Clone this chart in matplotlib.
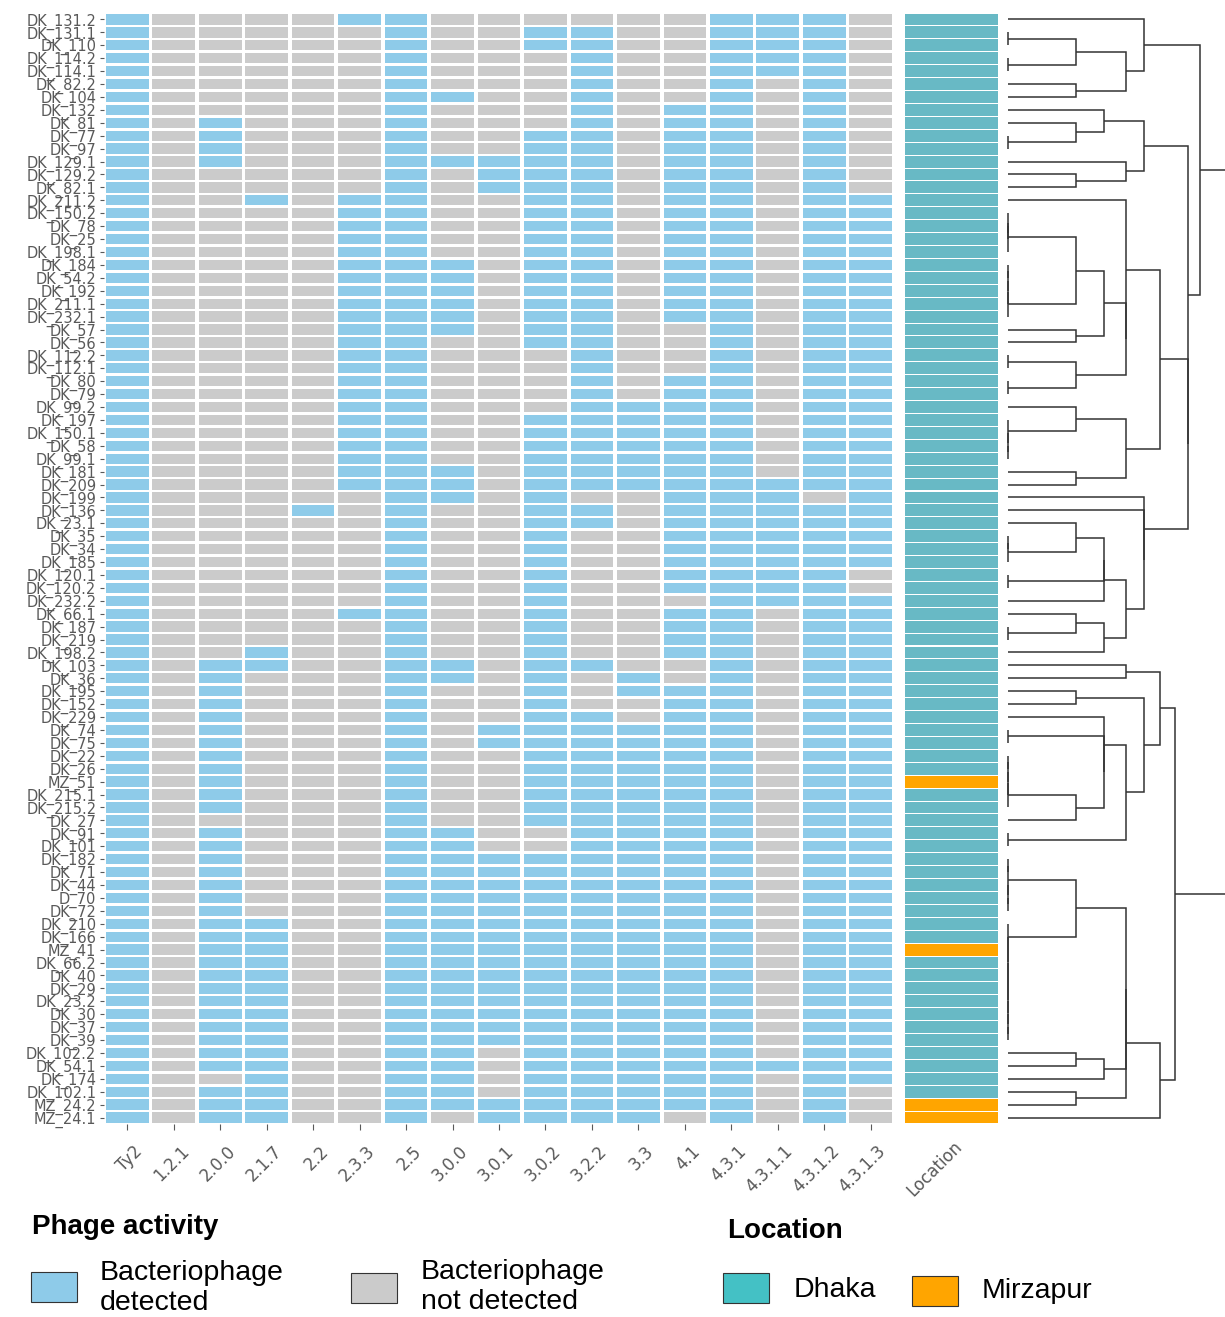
import numpy as np
import matplotlib
matplotlib.use('Agg')
import matplotlib.pyplot as plt
from matplotlib.patches import Rectangle
from matplotlib.collections import PatchCollection
from matplotlib.transforms import ScaledTranslation

# DADOS
lineages = ['Ty2', '1.2.1', '2.0.0', '2.1.7', '2.2', '2.3.3', '2.5', '3.0.0', '3.0.1',
            '3.0.2', '3.2.2', '3.3', '4.1', '4.3.1', '4.3.1.1', '4.3.1.2', '4.3.1.3']

isolates = ['DK_131.2', 'DK_131.1', 'DK_110', 'DK_114.2', 'DK_114.1', 'DK_82.2', 'DK_104',
            'DK_132', 'DK_81', 'DK_77', 'DK_97', 'DK_129.1', 'DK_129.2', 'DK_82.1',
            'DK_211.2', 'DK_150.2', 'DK_78', 'DK_25', 'DK_198.1', 'DK_184', 'DK_54.2',
            'DK_192', 'DK_211.1', 'DK_232.1', 'DK_57', 'DK_56', 'DK_112.2', 'DK_112.1',
            'DK_80', 'DK_79', 'DK_99.2', 'DK_197', 'DK_150.1', 'DK_58', 'DK_99.1',
            'DK_181', 'DK_209', 'DK_199', 'DK_136', 'DK_23.1', 'DK_35', 'DK_34', 'DK_185',
            'DK_120.1', 'DK_120.2', 'DK_232.2', 'DK_66.1', 'DK_187', 'DK_219', 'DK_198.2',
            'DK_103', 'DK_36', 'DK_195', 'DK_152', 'DK_229', 'DK_74', 'DK_75', 'DK_22',
            'DK_26', 'MZ_51', 'DK_215.1', 'DK_215.2', 'DK_27', 'DK_91', 'DK_101',
            'DK_182', 'DK_71', 'DK_44', 'D_70', 'DK_72', 'DK_210', 'DK_166', 'MZ_41',
            'DK_66.2', 'DK_40', 'DK_29', 'DK_23.2', 'DK_30', 'DK_37', 'DK_39',
            'DK_102.2', 'DK_54.1', 'DK_174', 'DK_102.1', 'MZ_24.2', 'MZ_24.1']

# 1 = bacteriophage detected, 0 = not detected (one char per lineage)
phage_rows = [
    '10000110000001110', '10000010011001110', '10000010011001110', '10000010001001110',
    '10000010001001110', '10000010001001010', '10000011001001010', '10000010001011010',
    '10100010001011010', '10100010011011010', '10100010011011010', '10100011111011010',
    '10000010111011010', '10000010111011010', '10010110011011011', '10000110011011011',
    '10000110011011011', '10000110011011011', '10000110011011011', '10000111011011011',
    '10000111011011011', '10000111011011011', '10000111011011011', '10000111011011011',
    '10000111011001011', '10000110011001011', '10000110001001011', '10000110001001011',
    '10000110001011011', '10000110001011011', '10000110001111011', '10000110011111011',
    '10000110011111011', '10000110011111011', '10000110011111011', '10000111011111011',
    '10000111011111111', '10000011010011101', '10001010011011111', '10000010011011111',
    '10000010010011111', '10000010010011111', '10000010010011111', '10000010010011110',
    '10000010010011110', '10000010010001111', '10000110010011011', '10000010010011011',
    '10000010010011011', '10010010010011011', '10110011011001011', '10100011010101011',
    '10100010010111011', '10100010010011011', '10100010011011011', '10100010111111011',
    '10100010111111011', '10100010011111011', '10100010011111011', '10100010011111011',
    '10100010011111011', '10100010011111011', '10000010011111011', '10100011001111011',
    '10100011001111011', '10100011111111011', '10100011111111011', '10100011111111011',
    '10100011111111011', '10100011111111011', '10110011111111011', '10110011111111011',
    '10110011111111011', '10110011111111011', '10110011111111011', '10110011111111011',
    '10110011111111011', '10110011111111011', '10110011111111011', '10110011111111011',
    '10110011011111011', '10110011011111111', '10010011011111011', '10110011011111010',
    '10110011111111010', '10110010111101010']

location = ['Mirzapur' if s.startswith('MZ') else 'Dhaka' for s in isolates]

# DENDROGRAMA: (distancia^2, esquerda, direita), folhas = numero da linha
g16_19 = (0, (0, 16, (0, 17, 18)), 19)
g20_24 = (0, (0, (0, (0, 20, 21), 22), 23), 24)
g32_35 = (0, 32, (0, 33, (0, 34, 35)))
g58_62 = (0, (0, (0, (0, 58, 59), 60), 61), 62)
g66_70 = (0, (0, 66, 67), (0, 68, (0, 69, 70)))
g71_80 = (0, 71, (0, 72, (0, 73, (0, 74, (0, 75, (0, 76, (0, 77, (0, 78, (0, 79, 80)))))))))

t1 = (4, 1, (3, (1, (0, 2, 3), (0, 4, 5)), (1, 6, 7)))
t2 = (4, (2, 8, (1, 9, (0, 10, 11))), (3, 12, (1, 13, 14)))
t3 = (5, (3, 15, (3, (2, (1, g16_19, g20_24), (1, 25, 26)), (1, (0, 27, 28), (0, 29, 30)))),
      (3, (1, 31, g32_35), (1, 36, 37)))
t4 = (4, 38, (4, 39, (3, (2, (2, (1, 40, (0, (0, 41, 42), 43)), (0, 44, 45)), 46),
                          (2, (1, 47, (0, 48, 49)), 50))))
b1 = (3, 51, 52)
b2 = (4, (1, 53, 54), (3, (2, 55, (2, (0, 56, 57), (1, g58_62, 63))), (0, 64, 65)))
b3 = (5, (3, (3, (1, g66_70, g71_80), (2, (1, 81, 82), 83)), (1, 84, 85)), 86)
tree = (11, (8, t1, (7, t2, (7, t3, t4))), (6, (5, b1, b2), b3))

COL_ON = '#8ECBE9'
COL_OFF = '#CBCBCB'
COL_LOC = {'Dhaka': '#68B9C5', 'Mirzapur': '#FFA500'}
TXT = '#595959'

W, H = 1225, 1317
fig = plt.figure(figsize=(W / 100, H / 100), dpi=100)


def px_axes(x0, y0, x1, y1):
    return fig.add_axes([x0 / W, 1 - y1 / H, (x1 - x0) / W, (y1 - y0) / H])


def shift_labels(ax, dx):
    off = ScaledTranslation(dx / 100, 0, fig.dpi_scale_trans)
    for lab in ax.get_xticklabels():
        lab.set_transform(lab.get_transform() + off)


# HEATMAP
mat = np.array([[int(c) for c in r] for r in phage_rows])
n_rows, n_cols = mat.shape
ax = px_axes(104, 13, 894, 1124)
gx, gy = 0.08, 0.2
on, off = [], []
for i in range(n_rows):
    for j in range(n_cols):
        rect = Rectangle((j + gx / 2, i + gy / 2), 1 - gx, 1 - gy)
        (on if mat[i, j] else off).append(rect)
ax.add_collection(PatchCollection(on, facecolor=COL_ON, edgecolor='none'))
ax.add_collection(PatchCollection(off, facecolor=COL_OFF, edgecolor='none'))
ax.set_xlim(0, n_cols)
ax.set_ylim(n_rows, 0)
ax.set_xticks(np.arange(n_cols) + 0.5)
ax.set_xticklabels(lineages, rotation=45, ha='right', rotation_mode='anchor',
                   fontsize=12, color=TXT)
ax.set_yticks(np.arange(n_rows) + 0.5)
ax.set_yticklabels(isolates, fontsize=10.5, color=TXT)
ax.tick_params(axis='y', length=3, width=0.8, color=TXT, pad=2.5)
ax.tick_params(axis='x', length=4, width=0.8, color=TXT, pad=9)
shift_labels(ax, 6)
for s in ax.spines.values():
    s.set_visible(False)

# COLUNA LOCATION
axl = px_axes(905, 13, 998, 1124)
for i, loc in enumerate(location):
    axl.add_patch(Rectangle((0, i + 0.04), 1, 0.92, facecolor=COL_LOC[loc], edgecolor='none'))
axl.set_xlim(0, 1)
axl.set_ylim(n_rows, 0)
axl.set_xticks([0.5])
axl.set_xticklabels(['Location'], rotation=45, ha='right', rotation_mode='anchor',
                    fontsize=12, color=TXT)
axl.set_yticks([])
axl.tick_params(axis='x', length=0, pad=10)
shift_labels(axl, 2)
for s in axl.spines.values():
    s.set_visible(False)

# DENDROGRAMA
axd = px_axes(1006, 13, 1225, 1124)
axd.set_xlim(-0.03, 3.19)
axd.set_ylim(n_rows, 0)
axd.axis('off')


def draw_node(node):
    if isinstance(node, int):
        return node - 0.5, 0.0
    d2, left, right = node
    h = np.sqrt(d2)
    y1, h1 = draw_node(left)
    y2, h2 = draw_node(right)
    axd.plot([h1, h, h, h2], [y1, y1, y2, y2], color='#333333', lw=1.1,
             solid_joinstyle='miter', solid_capstyle='butt')
    return (y1 + y2) / 2, h


draw_node(tree)

# LEGENDAS
lg = fig.add_axes([0, 0, 1, 1])
lg.set_xlim(0, W)
lg.set_ylim(H, 0)
lg.axis('off')
lg.patch.set_visible(False)
FONT = 'Liberation Sans'

lg.text(32, 1227, 'Phage activity', fontsize=20, fontweight='bold', va='center', family=FONT)
lg.add_patch(Rectangle((31, 1272), 46, 30, facecolor=COL_ON, edgecolor='#333333', lw=0.8))
lg.text(100, 1288, 'Bacteriophage\ndetected', fontsize=20.5, va='center', family=FONT)
lg.add_patch(Rectangle((351, 1273), 46, 30, facecolor=COL_OFF, edgecolor='#333333', lw=0.8))
lg.text(421, 1287, 'Bacteriophage\nnot detected', fontsize=20.5, va='center', family=FONT)

lg.text(727, 1231, 'Location', fontsize=20, fontweight='bold', va='center', family=FONT)
lg.add_patch(Rectangle((723, 1273), 46, 30, facecolor='#44C1C5', edgecolor='#333333', lw=0.8))
lg.text(794, 1290, 'Dhaka', fontsize=20.5, va='center', family=FONT)
lg.add_patch(Rectangle((912, 1276), 46, 30, facecolor='#FFA500', edgecolor='#333333', lw=0.8))
lg.text(982, 1291, 'Mirzapur', fontsize=20.5, va='center', family=FONT)

fig.savefig('out.png', dpi=100)
